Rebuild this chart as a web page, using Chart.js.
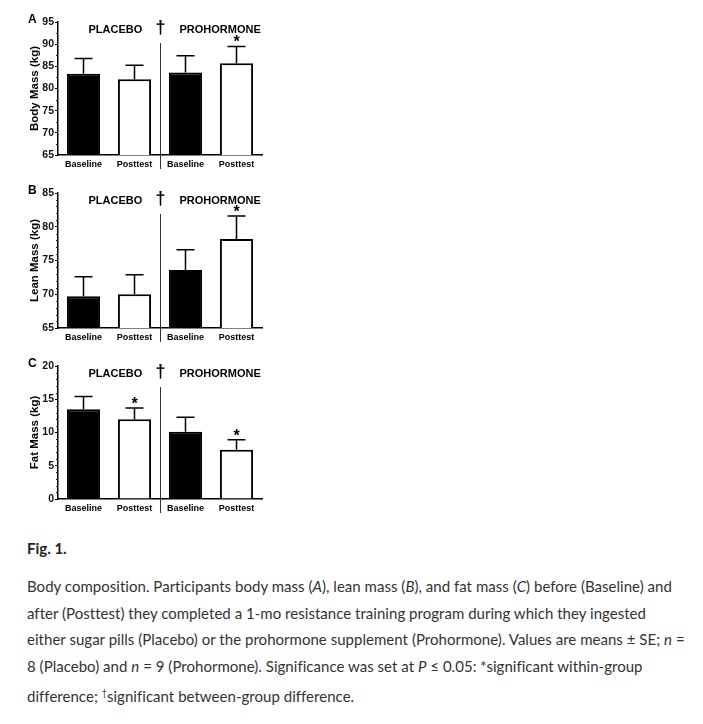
<!DOCTYPE html>
<html>
<head>
<meta charset="utf-8">
<script src="https://cdn.jsdelivr.net/npm/chart.js@4.4.0/dist/chart.umd.min.js"></script>
<style>
body { margin: 0; background: #fff; width: 703px; height: 724px; position: relative; overflow: hidden; }
canvas { position: absolute; left: 0; }
#figLabel { position: absolute; left: 27px; top: 539px; font: bold 15px Lato, sans-serif; color: #222; }
#caption { position: absolute; left: 27px; top: 573px; width: 676px; font: 15px Lato, sans-serif; line-height: 26.7px; color: #333; margin: 0; white-space: nowrap; letter-spacing: 0.03px; }
</style>
</head>
<body>
<canvas id="chartA" width="270" height="175" style="top:0px"></canvas>
<canvas id="chartB" width="270" height="173" style="top:175px"></canvas>
<canvas id="chartC" width="270" height="171" style="top:348px"></canvas>
<div id="figLabel">Fig. 1.</div>
<p id="caption">Body composition. Participants body mass (<i>A</i>), lean mass (<i>B</i>), and fat mass (<i>C</i>) before (Baseline) and<br>after (Posttest) they completed a 1-mo resistance training program during which they ingested<br>either sugar pills (Placebo) or the prohormone supplement (Prohormone). Values are means ± SE; <i>n</i> =<br>8 (Placebo) and <i>n</i> = 9 (Prohormone). Significance was set at <i>P</i> ≤ 0.05: *significant within-group<br>difference; <sup style="font-size:9px">†</sup>significant between-group difference.</p>

<script>
// 数据
const categories = ['Baseline', 'Posttest', 'Baseline', 'Posttest'];
const groups = ['PLACEBO', 'PROHORMONE'];
const barColors = ['#000', '#fff', '#000', '#fff'];

// A: 体重
const bodyMass = [83.3, 82.1, 83.6, 85.7];
const bodyMassSE = [3.45, 3.15, 3.8, 3.8];
const bodyMassSig = [false, false, false, true];

// B: 瘦体重
const leanMass = [69.7, 70.0, 73.6, 78.2];
const leanMassSE = [2.9, 2.9, 3.0, 3.4];
const leanMassSig = [false, false, false, true];

// C: 脂肪量
const fatMass = [13.5, 12.0, 10.1, 7.4];
const fatMassSE = [1.9, 1.7, 2.2, 1.5];
const fatMassSig = [false, true, false, true];

const FONT = "'Liberation Sans', Arial, sans-serif";

// 误差线、星号、分组标题、分隔线、次刻度
const panelDeco = {
    id: 'panelDeco',
    afterDatasetsDraw(chart, args, opts) {
        const ctx = chart.ctx;
        const xs = chart.scales.x;
        const ys = chart.scales.y;
        const area = chart.chartArea;
        const meta = chart.getDatasetMeta(0);
        const values = chart.data.datasets[0].data;
        ctx.save();

        // 次刻度
        ctx.strokeStyle = '#222';
        ctx.lineWidth = 1;
        for (let v = ys.min; v <= ys.max; v += opts.minor) {
            if (v % 5 === 0) continue;
            const py = Math.round(ys.getPixelForValue(v)) + 0.5;
            ctx.beginPath();
            ctx.moveTo(area.left - 2, py);
            ctx.lineTo(area.left, py);
            ctx.stroke();
        }

        // 误差线
        ctx.strokeStyle = '#000';
        ctx.lineWidth = 1.5;
        ctx.fillStyle = '#000';
        meta.data.forEach((bar, i) => {
            const top = ys.getPixelForValue(values[i] + opts.se[i]);
            ctx.beginPath();
            ctx.moveTo(bar.x, bar.y);
            ctx.lineTo(bar.x, top);
            ctx.moveTo(bar.x - 9, top);
            ctx.lineTo(bar.x + 9, top);
            ctx.stroke();
            if (opts.sig[i]) {
                ctx.font = 'bold 16px ' + FONT;
                ctx.textAlign = 'center';
                ctx.textBaseline = 'alphabetic';
                ctx.fillText('*', bar.x, top + 1);
            }
        });

        // 分隔线
        const midX = Math.round((xs.getPixelForValue(1) + xs.getPixelForValue(2)) / 2) + 0.5;
        ctx.strokeStyle = '#333';
        ctx.lineWidth = 1;
        ctx.beginPath();
        ctx.moveTo(midX, area.top + 21);
        ctx.lineTo(midX, area.bottom + 14);
        ctx.stroke();

        // 分组标题
        ctx.font = 'bold 11px ' + FONT;
        ctx.textAlign = 'left';
        ctx.textBaseline = 'middle';
        ctx.fillText(groups[0], xs.getPixelForValue(0) + 5, area.top + 8);
        ctx.fillText(groups[1], xs.getPixelForValue(2) - 6, area.top + 8);
        ctx.font = 'bold 18px ' + FONT;
        ctx.textAlign = 'center';
        ctx.fillText('\u2020', midX, area.top + 6);

        // 面板字母
        ctx.font = 'bold 12px ' + FONT;
        ctx.textAlign = 'left';
        ctx.fillText(opts.letter, 28, area.top - 2);
        ctx.restore();
    }
};

function makePanel(id, values, se, sig, letter, yTitle, yMin, yMax, minor, padTop) {
    const ctx = document.getElementById(id).getContext('2d');
    new Chart(ctx, {
        type: 'bar',
        data: {
            labels: categories,
            datasets: [{
                data: values,
                backgroundColor: barColors,
                borderColor: '#000',
                borderWidth: 2,
                barPercentage: 0.65,
                categoryPercentage: 1
            }]
        },
        options: {
            responsive: false,
            animation: false,
            devicePixelRatio: 1,
            layout: { padding: { top: padTop, right: 8, bottom: 0, left: 0 } },
            scales: {
                x: {
                    grid: { display: true, drawOnChartArea: false, drawTicks: false },
                    border: { display: true, color: '#000', width: 1.5 },
                    ticks: { color: '#000', padding: 4, font: { family: FONT, size: 9, weight: 'bold' } },
                    afterFit: function(scale) { scale.height = 20; }
                },
                y: {
                    min: yMin,
                    max: yMax,
                    ticks: { stepSize: 5, color: '#111', padding: 1, font: { family: FONT, size: 10.5, weight: 'bold' } },
                    grid: { drawOnChartArea: false, drawTicks: true, tickLength: 3, color: '#000' },
                    border: { display: true, color: '#000', width: 1.5 },
                    title: {
                        display: true,
                        text: yTitle,
                        color: '#000',
                        padding: { top: 28, bottom: 0 },
                        font: { family: FONT, size: 11.5, weight: 'bold' }
                    },
                    afterFit: function(scale) { scale.width = 58; }
                }
            },
            plugins: {
                legend: { display: false },
                tooltip: { enabled: false },
                panelDeco: { se: se, sig: sig, letter: letter, minor: minor }
            }
        },
        plugins: [panelDeco]
    });
}

makePanel('chartA', bodyMass, bodyMassSE, bodyMassSig, 'A', 'Body Mass (kg)', 65, 95, 2.5, 22);
makePanel('chartB', leanMass, leanMassSE, leanMassSig, 'B', 'Lean Mass (kg)', 65, 85, 1, 18);
makePanel('chartC', fatMass, fatMassSE, fatMassSig, 'C', 'Fat Mass (kg)', 0, 20, 1, 18);
</script>
</body>
</html>
